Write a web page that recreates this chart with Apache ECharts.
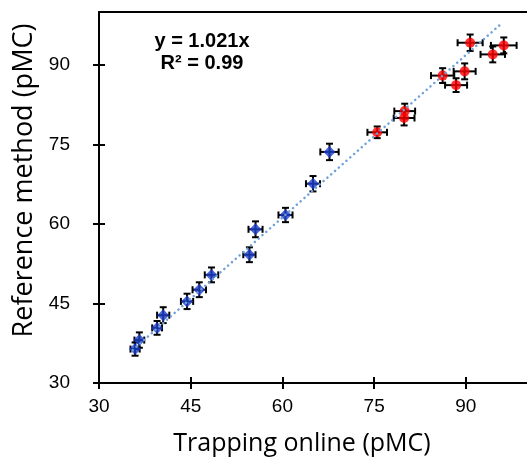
<!DOCTYPE html>
<html>
<head>
<meta charset="utf-8">
<script src="https://cdn.jsdelivr.net/npm/echarts@6/dist/echarts.min.js"></script>
<style>
html, body { margin: 0; padding: 0; background: #fff; }
#chart { width: 527px; height: 468px; }
</style>
</head>
<body>
<div id="chart"></div>
<script>
// 刻度
var tickValues = [30, 45, 60, 75, 90];

// 蓝色点 (x, y, x误差, y误差)
var blueX = [35.9, 36.6, 39.5, 40.5, 44.4, 46.4, 48.4, 54.6, 55.6, 60.5, 65.0, 67.7];
var blueY = [36.4, 38.1, 40.4, 42.8, 45.4, 47.6, 50.4, 54.2, 59.0, 61.7, 67.6, 73.6];
var blueXErr = [0.75, 0.8, 0.8, 1.0, 1.0, 1.1, 1.1, 1.0, 1.15, 1.15, 1.15, 1.5];
var blueYErr = [1.25, 1.45, 1.3, 1.5, 1.45, 1.4, 1.4, 1.4, 1.5, 1.35, 1.45, 1.55];

// 红色点
var redX = [75.5, 80.0, 79.9, 86.2, 88.4, 89.8, 90.7, 94.4, 96.2];
var redY = [77.3, 81.3, 80.0, 88.0, 86.2, 88.8, 94.2, 92.0, 93.7];
var redXErr = [1.6, 1.7, 1.7, 1.9, 1.8, 1.8, 2.05, 2.0, 2.1];
var redYErr = [1.1, 1.4, 1.4, 1.4, 1.3, 1.5, 1.55, 1.5, 1.5];

// 趋势线端点
var trendX = [35.5, 95.7];
var trendY = [36.2, 97.7];

var eqText = ['y = 1.021x', 'R\u00b2 = 0.99'];

function zip(xs, ys) {
	var out = [];
	for (var i = 0; i < xs.length; i++) out.push([xs[i], ys[i]]);
	return out;
}
function zipErr(xs, ys, xe, ye) {
	var out = [];
	for (var i = 0; i < xs.length; i++) out.push([xs[i], ys[i], xe[i], ye[i]]);
	return out;
}

// 误差棒
function renderErr(params, api) {
	var x = api.value(0), y = api.value(1), xe = api.value(2), ye = api.value(3);
	var l = api.coord([x - xe, y]), r = api.coord([x + xe, y]);
	var t = api.coord([x, y + ye]), b = api.coord([x, y - ye]);
	var cap = 3.5;
	var st = { stroke: '#000', lineWidth: 2 };
	return {
		type: 'group',
		children: [
			{ type: 'line', shape: { x1: l[0], y1: l[1], x2: r[0], y2: r[1] }, style: st },
			{ type: 'line', shape: { x1: t[0], y1: t[1], x2: b[0], y2: b[1] }, style: st },
			{ type: 'line', shape: { x1: l[0], y1: l[1] - cap, x2: l[0], y2: l[1] + cap }, style: st },
			{ type: 'line', shape: { x1: r[0], y1: r[1] - cap, x2: r[0], y2: r[1] + cap }, style: st },
			{ type: 'line', shape: { x1: t[0] - cap, y1: t[1], x2: t[0] + cap, y2: t[1] }, style: st },
			{ type: 'line', shape: { x1: b[0] - cap, y1: b[1], x2: b[0] + cap, y2: b[1] }, style: st }
		]
	};
}

var axisFont = 'Liberation Sans, Arial, sans-serif';
var titleFont = 'Open Sans, sans-serif';
var lineStyle = { color: '#000', width: 2 };

var myChart = echarts.init(document.getElementById('chart'), null, { renderer: 'canvas' });
var option = {
	animation: false,
	backgroundColor: '#fff',
	grid: { left: 99, right: 0, top: 12, bottom: 85 },
	xAxis: [
		{
			type: 'value', position: 'bottom', min: 30, max: 100,
			axisLine: { show: true, lineStyle: lineStyle },
			axisTick: { show: true, length: 6, lineStyle: lineStyle, customValues: tickValues },
			axisLabel: { customValues: tickValues, fontFamily: axisFont, fontSize: 19, color: '#000', margin: 14 },
			splitLine: { show: false },
			name: 'Trapping online (pMC)', nameLocation: 'middle', nameGap: 48,
			nameTextStyle: { fontFamily: titleFont, fontSize: 25, color: '#000', padding: [0, 22, 0, 0] }
		},
		{
			type: 'value', position: 'bottom', min: 30, max: 100,
			axisLine: { show: false },
			axisTick: { show: true, inside: true, length: 6, lineStyle: lineStyle, customValues: tickValues },
			axisLabel: { show: false },
			splitLine: { show: false }
		},
		{
			type: 'value', position: 'top', min: 30, max: 100,
			axisLine: { show: true, lineStyle: lineStyle },
			axisTick: { show: false },
			axisLabel: { show: false },
			splitLine: { show: false }
		}
	],
	yAxis: [
		{
			type: 'value', position: 'left', min: 30, max: 100,
			axisLine: { show: true, lineStyle: lineStyle },
			axisTick: { show: true, length: 6, lineStyle: lineStyle, customValues: tickValues },
			axisLabel: { customValues: tickValues, fontFamily: axisFont, fontSize: 19, color: '#000', margin: 29 },
			splitLine: { show: false },
			name: 'Reference method (pMC)', nameLocation: 'middle', nameGap: 47,
			nameTextStyle: { fontFamily: titleFont, fontSize: 27, color: '#000', padding: [0, 0, 0, 34] }
		},
		{
			type: 'value', position: 'left', min: 30, max: 100,
			axisLine: { show: false },
			axisTick: { show: true, inside: true, length: 6, lineStyle: lineStyle, customValues: tickValues },
			axisLabel: { show: false },
			splitLine: { show: false }
		}
	],
	graphic: [
		{ type: 'text', x: 202, y: 31, style: { text: eqText[0], font: 'bold 20px Liberation Sans', fill: '#000', align: 'center', textAlign: 'center' } },
		{ type: 'text', x: 202, y: 53, style: { text: eqText[1], font: 'bold 20px Liberation Sans', fill: '#000', align: 'center', textAlign: 'center' } }
	],
	series: [
		{
			type: 'custom', name: 'blueErr', renderItem: renderErr,
			data: zipErr(blueX, blueY, blueXErr, blueYErr),
			encode: { x: 0, y: 1 }, z: 2, silent: true
		},
		{
			type: 'custom', name: 'redErr', renderItem: renderErr,
			data: zipErr(redX, redY, redXErr, redYErr),
			encode: { x: 0, y: 1 }, z: 2, silent: true
		},
		{
			type: 'scatter', name: 'blue', data: zip(blueX, blueY),
			symbol: 'diamond', symbolSize: 12,
			itemStyle: { color: '#1c3fcc' }, z: 3
		},
		{
			type: 'scatter', name: 'red', data: zip(redX, redY),
			symbol: 'circle', symbolSize: 10,
			itemStyle: { color: '#ff0000' }, z: 3
		},
		{
			type: 'line', name: 'trend', data: zip(trendX, trendY),
			symbol: 'none', z: 4,
			lineStyle: { color: '#6fa0d8', width: 2.5, type: [0.1, 5], cap: 'round' }
		}
	]
};
myChart.setOption(option);
window.onresize = myChart.resize;
</script>
</body>
</html>
